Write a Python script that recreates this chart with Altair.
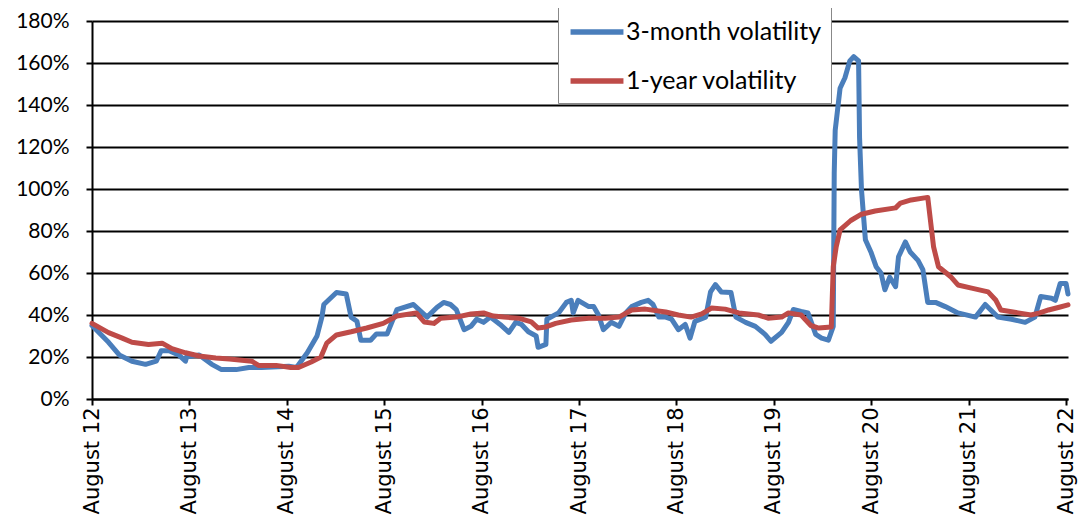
import altair as alt
import pandas as pd

# years since August 2012
t_3m = [0.00, 0.17, 0.28, 0.41, 0.55, 0.66, 0.71, 0.79, 0.89, 0.96, 0.97, 1.10, 1.23, 1.33, 1.48, 1.61, 1.74,
        2.02, 2.10, 2.21, 2.31, 2.36, 2.38, 2.51, 2.61, 2.66, 2.72, 2.76, 2.86, 2.92, 3.03, 3.10, 3.13, 3.30,
        3.37, 3.44, 3.54, 3.61, 3.68, 3.74, 3.82, 3.89, 3.95, 4.02, 4.09, 4.19, 4.28, 4.35, 4.41, 4.48, 4.56,
        4.58, 4.66, 4.67, 4.79, 4.87, 4.92, 4.94, 4.99, 5.10, 5.15, 5.20, 5.25, 5.33, 5.41, 5.48, 5.54, 5.64,
        5.71, 5.76, 5.82, 5.89, 5.95, 6.02, 6.09, 6.14, 6.19, 6.30, 6.35, 6.40, 6.46, 6.56, 6.61, 6.71, 6.81,
        6.91, 6.97, 7.08, 7.15, 7.20, 7.28, 7.35, 7.43, 7.49, 7.56, 7.61, 7.62, 7.63, 7.68, 7.73, 7.78, 7.82,
        7.87, 7.88, 7.90, 7.94, 8.00, 8.05, 8.10, 8.14, 8.19, 8.25, 8.28, 8.35, 8.40, 8.48, 8.53, 8.58, 8.66,
        8.76, 8.89, 9.07, 9.17, 9.30, 9.44, 9.58, 9.68, 9.74, 9.85, 9.89, 9.94, 10.00, 10.02]
v_3m = [35, 27, 21, 18, 16.5, 18, 23, 23, 21, 18, 20, 21, 16.5, 14, 14, 15, 15,
        15.6, 15, 22, 30, 39, 45, 50.7, 50, 39, 37, 28, 28, 31, 31, 39, 42.6, 45,
        42, 39, 43.6, 46, 45, 42.6, 33, 34.6, 38, 36.5, 39, 35.5, 31.7, 36.5, 35.5, 32, 30,
        24.6, 26, 38, 41, 46, 47, 41, 47, 44, 44, 40, 33, 36.5, 34.6, 41, 44, 46,
        47, 45, 39, 39, 38, 33, 35.5, 29, 37, 39, 51, 54.5, 51, 50.7, 39, 36.5, 34.6,
        30.8, 27.5, 31.7, 36.5, 42.6, 41.7, 41, 30.8, 29, 28, 34.6, 107.5, 128, 148, 153, 161, 163,
        161, 124.6, 99.5, 75.8, 69.6, 63, 60, 52, 58, 53.5, 67.7, 74.8, 70, 66, 61.6, 46, 46,
        44, 41, 39, 45, 39, 38, 36.5, 39, 48.8, 48, 47, 55, 55, 50]

t_1y = [0.00, 0.17, 0.31, 0.41, 0.58, 0.72, 0.82, 0.96, 1.10, 1.27, 1.41, 1.64, 1.71, 1.89, 2.04, 2.12, 2.25,
        2.35, 2.41, 2.51, 2.66, 2.82, 2.99, 3.13, 3.33, 3.41, 3.51, 3.58, 3.74, 3.89, 4.02, 4.12, 4.23, 4.38,
        4.51, 4.58, 4.66, 4.76, 4.92, 5.10, 5.27, 5.41, 5.54, 5.68, 5.89, 6.02, 6.15, 6.26, 6.36, 6.50, 6.64,
        6.84, 6.94, 7.08, 7.15, 7.28, 7.38, 7.46, 7.59, 7.61, 7.64, 7.68, 7.79, 7.90, 8.04, 8.25, 8.30, 8.41,
        8.58, 8.64, 8.69, 8.77, 8.82, 8.89, 9.03, 9.20, 9.28, 9.33, 9.51, 9.64, 9.73, 9.82, 9.94, 10.02]
v_1y = [36, 31.6, 29, 27, 26, 26.6, 24, 22, 20.5, 19.5, 19, 18, 16, 16, 15, 15, 17.6,
        20, 26.6, 30.5, 32, 33.8, 36, 39.5, 41, 36.7, 36, 38.5, 39, 40.5, 41, 39.5, 39, 38.5,
        36.7, 33.8, 34.3, 36, 37.6, 38.5, 38.5, 39, 42.4, 42.8, 41.4, 40, 39, 40.5, 43.3, 42.8, 41,
        40, 38.5, 39, 41, 40, 35, 33.8, 34.3, 63, 72.4, 80.5, 85, 88, 89.5, 91, 93.3, 94.8,
        96, 72.4, 63, 60, 58, 54.3, 52.8, 51, 47, 42.4, 41, 40, 41, 42.4, 43.8, 44.8]

series_names = ["3-month volatility", "1-year volatility"]
series_colors = ["#4A7EBB", "#BE4B48"]
x_ticks = list(range(0, 11))
y_ticks = list(range(0, 181, 20))

df = pd.concat([
    pd.DataFrame({"t": t_3m, "v": v_3m, "s": series_names[0], "o": range(len(t_3m))}),
    pd.DataFrame({"t": t_1y, "v": v_1y, "s": series_names[1], "o": range(len(t_1y))}),
])

chart = alt.Chart(df).mark_line(strokeWidth=5, strokeJoin="round", strokeCap="round").encode(
    x=alt.X("t:Q", scale=alt.Scale(domain=[0, 10.02], nice=False, zero=False),
            axis=alt.Axis(values=x_ticks, labelExpr="'August ' + (12 + datum.value)", labelAngle=-90,
                          grid=False, title=None, tickSize=6, tickColor="black", domainColor="black",
                          domainWidth=2, tickWidth=2, labelFont="DejaVu Sans", labelFontSize=21,
                          labelColor="black", labelPadding=2)),
    y=alt.Y("v:Q", scale=alt.Scale(domain=[0, 180], nice=False),
            axis=alt.Axis(values=y_ticks, labelExpr="datum.value + '%'", grid=True, gridColor="black",
                          gridWidth=2, title=None, tickSize=6, tickColor="black", domainColor="black",
                          domainWidth=2, tickWidth=2, labelFont="Lato", labelFontSize=21,
                          labelColor="black", labelPadding=17)),
    color=alt.Color("s:N", scale=alt.Scale(domain=series_names, range=series_colors),
                    legend=alt.Legend(title=None, orient="none", legendX=466, legendY=-14,
                                      symbolType="M-2,0L2,0", symbolSize=700, symbolStrokeWidth=5.5,
                                      symbolOffset=14, labelLimit=400,
                                      labelFont="Lato", labelFontSize=25, labelColor="black",
                                      fillColor="white", strokeColor="#888888", padding=9,
                                      rowPadding=20, labelOffset=13)),
    order="o:Q",
).properties(
    width=976, height=378,
    autosize=alt.AutoSizeParams(type="none"),
    padding={"left": 84, "top": 13, "right": 10, "bottom": 120},
).configure_view(stroke=None)

chart.save("out.html", embed_options={"renderer": "svg", "actions": False})
